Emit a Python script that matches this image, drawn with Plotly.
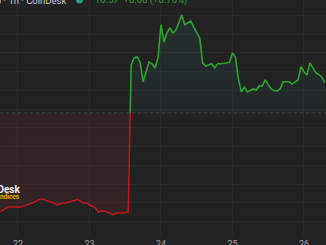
import pandas as pd
import plotly.graph_objects as go

# ---- data (hour offsets from 22nd 00:00, 1h candles) ----
BASE = pd.Timestamp("2024-03-22 00:00")
BASELINE = 10.49

red_hours = [-6, -4, -3, 1, 3, 5, 6, 8, 10, 12, 13, 15, 16, 18, 20, 22, 23, 24,
             26, 27, 28, 30, 32, 33, 35, 37]
red_vals = [10.226, 10.237, 10.239, 10.239, 10.245, 10.250, 10.255, 10.261,
            10.255, 10.250, 10.245, 10.250, 10.250, 10.255, 10.259, 10.250,
            10.250, 10.245, 10.237, 10.226, 10.229, 10.226, 10.218, 10.223,
            10.223, 10.226]

green_hours = list(range(38, 104))
green_vals = [10.618, 10.637, 10.639, 10.626, 10.573, 10.599, 10.626, 10.621,
              10.610, 10.637, 10.725, 10.679, 10.703, 10.717, 10.703, 10.711,
              10.730, 10.751, 10.725, 10.730, 10.735, 10.719, 10.703, 10.690,
              10.623, 10.615, 10.618, 10.621, 10.610, 10.621, 10.621, 10.621,
              10.623, 10.625, 10.650, 10.639, 10.580, 10.546, 10.559, 10.546,
              10.550, 10.554, 10.551, 10.562, 10.562, 10.578, 10.565, 10.554,
              10.550, 10.549, 10.554, 10.573, 10.573, 10.573, 10.567, 10.572,
              10.578, 10.613, 10.600, 10.591, 10.623, 10.610, 10.597, 10.592,
              10.586, 10.570]

tick_days = [22, 23, 24, 25, 26]
tick_labels = ["22", "23", "24", "25", "26"]

legend_text = "CoinDesk Cap · 1h · CoinDesk"
value_text = "10.57  +0.08 (+0.76%)"

BG = "#222222"
GRID = "#2a2a2a"
GREEN = "#2ea32e"
RED = "#c4161c"


def ts(hours):
    return [BASE + pd.Timedelta(hours=h) for h in hours]


# crossing point of the jump through the baseline (derived from the data)
h0, v0 = red_hours[-1], red_vals[-1]
h1, v1 = green_hours[0], green_vals[0]
h_cross = h0 + (BASELINE - v0) / (v1 - v0) * (h1 - h0)

rx = red_hours + [h_cross]
ry = red_vals + [BASELINE]
gx = [h_cross] + green_hours
gy = [BASELINE] + green_vals

fig = go.Figure()
# red area
fig.add_trace(go.Scatter(x=ts(rx), y=[BASELINE] * len(rx), mode="lines",
                         line=dict(width=0), hoverinfo="skip", showlegend=False))
fig.add_trace(go.Scatter(x=ts(rx), y=ry, mode="lines", fill="tonexty",
                         fillgradient=dict(type="vertical",
                                           colorscale=[[0, "rgba(190,40,50,0.12)"],
                                                       [1, "rgba(190,40,50,0.09)"]]),
                         line=dict(color=RED, width=1.5), showlegend=False))
# green area
fig.add_trace(go.Scatter(x=ts(gx), y=[BASELINE] * len(gx), mode="lines",
                         line=dict(width=0), hoverinfo="skip", showlegend=False))
fig.add_trace(go.Scatter(x=ts(gx), y=gy, mode="lines", fill="tonexty",
                         fillgradient=dict(type="vertical",
                                           colorscale=[[0, "rgba(38,166,154,0.04)"],
                                                       [1, "rgba(38,166,154,0.10)"]]),
                         line=dict(color=GREEN, width=1.6), showlegend=False))

fig.add_hline(y=BASELINE, line=dict(color="rgba(120,120,120,0.4)", width=1, dash="dot"),
              layer="below")

fig.update_layout(
    width=326, height=245,
    margin=dict(l=0, r=0, t=0, b=9, pad=0),
    paper_bgcolor=BG, plot_bgcolor=BG,
    font=dict(family="Roboto, Liberation Sans, sans-serif"),
    showlegend=False,
    xaxis=dict(type="date",
               range=[BASE + pd.Timedelta(hours=-6.04), BASE + pd.Timedelta(hours=103.4)],
               tickmode="array",
               tickvals=[BASE + pd.Timedelta(days=d - 22) for d in tick_days],
               ticktext=tick_labels,
               showgrid=True, gridcolor=GRID, gridwidth=1,
               zeroline=False, showline=False, ticks="",
               ticklabelstandoff=1,
               tickfont=dict(color="#a3a6af", size=9),
               automargin=False, fixedrange=True),
    yaxis=dict(range=[10.162, 10.791], dtick=0.05, tick0=10.0,
               showgrid=True, gridcolor=GRID, gridwidth=1,
               zeroline=False, showline=False, showticklabels=False,
               automargin=False, fixedrange=True),
)

# header legend (cropped at top/left as in the reference)
fig.add_annotation(xref="paper", yref="paper", x=68 / 326, y=1 - 0.5 / 245,
                   xanchor="right", yanchor="middle", showarrow=False,
                   text=legend_text, font=dict(color="#c9ccd4", size=9.5))
fig.add_shape(type="circle", xref="paper", yref="paper",
              x0=76 / 326, x1=83 / 326, y0=1 - 3.5 / 245, y1=1 + 3.5 / 245,
              fillcolor="#1fa58e", line=dict(width=0))
fig.add_annotation(xref="paper", yref="paper", x=93 / 326, y=1 - 0.5 / 245,
                   xanchor="left", yanchor="middle", showarrow=False,
                   text=value_text, font=dict(color=GREEN, size=9.5))

# watermark
fig.add_annotation(xref="paper", yref="paper", x=22 / 326, y=1 - 196.5 / 245,
                   xanchor="right", yanchor="middle", showarrow=False,
                   text="<b>CoinDesk</b>", font=dict(color="#ececec", size=10))
fig.add_annotation(xref="paper", yref="paper", x=22 / 326, y=1 - 204.5 / 245,
                   xanchor="right", yanchor="middle", showarrow=False,
                   text="<b>Indices</b>", font=dict(color="#e8b00c", size=6.5))

fig.write_html("out.html", config={"displayModeBar": False})
